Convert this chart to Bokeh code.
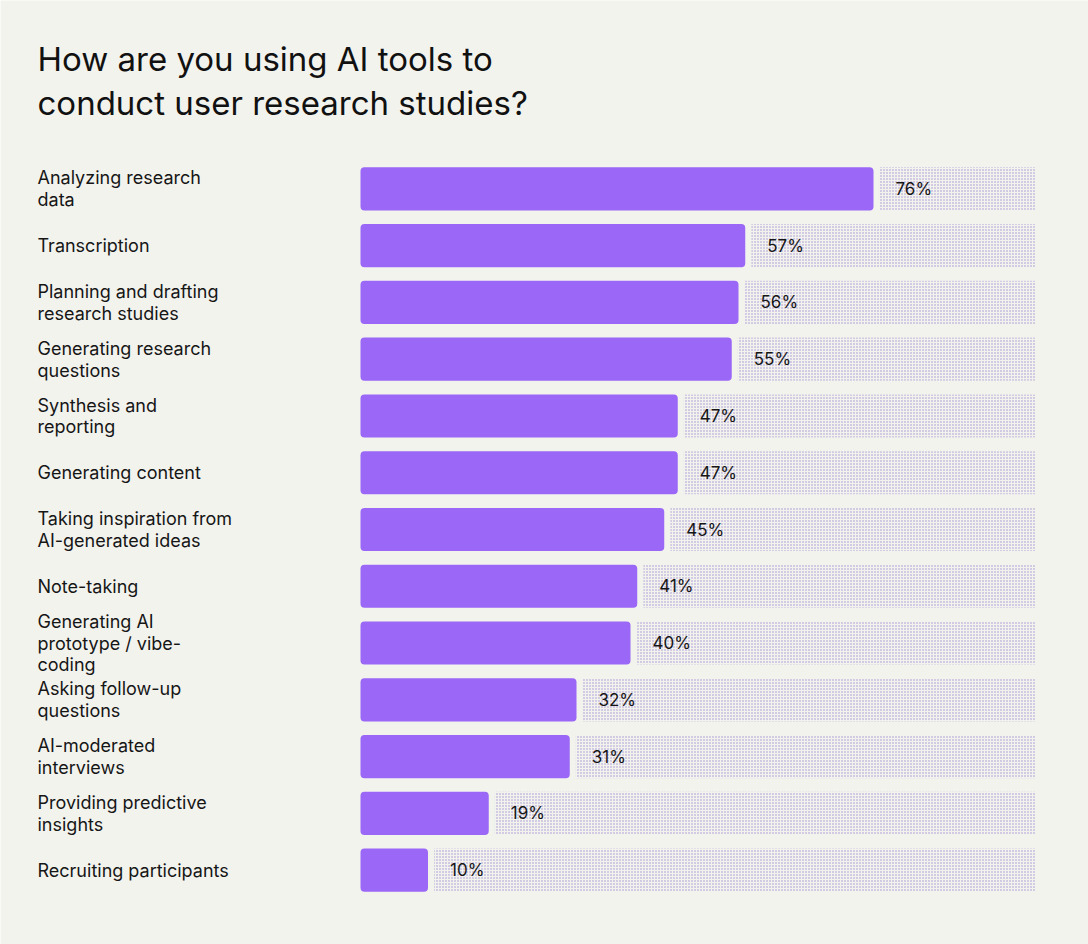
from bokeh.plotting import figure
from bokeh.models import ColumnDataSource, LabelSet, Label, Range1d
from bokeh.core.properties import value
from bokeh.embed import file_html
from bokeh.resources import INLINE

# Survey answers, top to bottom
categories = [
    "Analyzing research\ndata",
    "Transcription",
    "Planning and drafting\nresearch studies",
    "Generating research\nquestions",
    "Synthesis and\nreporting",
    "Generating content",
    "Taking inspiration from\nAI-generated ideas",
    "Note-taking",
    "Generating AI\nprototype / vibe-\ncoding",
    "Asking follow-up\nquestions",
    "AI-moderated\ninterviews",
    "Providing predictive\ninsights",
    "Recruiting participants",
]
shares = [76, 57, 56, 55, 47, 47, 45, 41, 40, 32, 31, 19, 10]
value_labels = [f"{v}%" for v in shares]

BG = "#f3f3ee"
BAR = "#9a67f6"
DOTS = "#9f8fd2"
INK = "#161616"
FONT_NAME = "Inter"
GAP = 0.9  # space between a bar and its remaining track, in percent units

# canvas and the region that holds the bars (pixels)
W, H = 1088, 944
BARS_LEFT, BARS_RIGHT = 360, 1035      # 0% and 100%
BARS_TOP, BARS_BOTTOM = 160, 898       # top of first row band, bottom of last
MARGIN_X = 37                          # left edge of the row labels and title

n = len(categories)
px_per_pct = (BARS_RIGHT - BARS_LEFT) / 100
px_per_row = (BARS_BOTTOM - BARS_TOP) / n

# ranges span the whole canvas so every text sits inside the frame
x_range = Range1d(-BARS_LEFT / px_per_pct, (W - BARS_LEFT) / px_per_pct)
y_range = Range1d(-0.5 + (H - BARS_TOP) / px_per_row, -0.5 - BARS_TOP / px_per_row)

rows = list(range(n))
src = ColumnDataSource(dict(
    row=rows,
    cat=categories,
    share=shares,
    track_left=[v + GAP for v in shares],
    track_right=[100] * n,
    label=value_labels,
))

p = figure(
    width=W, height=H, x_range=x_range, y_range=y_range,
    output_backend="svg", toolbar_location=None,
    min_border=0, min_border_left=0, min_border_right=0,
    min_border_top=0, min_border_bottom=0,
)
p.background_fill_color = BG
p.border_fill_color = BG
p.outline_line_color = None
p.xaxis.visible = False
p.yaxis.visible = False
p.xgrid.visible = False
p.ygrid.visible = False

# remaining share, drawn as a dotted track
p.hbar(y="row", left="track_left", right="track_right", height=0.76, source=src,
       fill_color=None, line_color=None,
       hatch_pattern="dot", hatch_color=DOTS, hatch_scale=3, hatch_weight=1.6)

# answered share
p.hbar(y="row", left=0, right="share", height=0.76, source=src,
       fill_color=BAR, line_color=None, border_radius=4)

p.add_layout(LabelSet(x="share", y="row", text="label", source=src,
                      x_offset=22, text_baseline="middle", text_align="left",
                      text_font=value(FONT_NAME), text_font_size="17px", text_color=INK))

p.add_layout(LabelSet(x=MARGIN_X, x_units="screen", y="row", text="cat", source=src,
                      text_baseline="middle", text_align="left",
                      text_font=value(FONT_NAME), text_font_size="18px", text_color=INK,
                      text_line_height=1.04))

p.add_layout(Label(x=MARGIN_X, y=H - 38, x_units="screen", y_units="screen",
                   text="How are you using AI tools to\nconduct user research studies?",
                   text_baseline="top", text_align="left",
                   text_font=FONT_NAME, text_font_size="33px",
                   text_color="#111111", text_line_height=1.12))

open("out.html", "w").write(file_html(p, INLINE))
